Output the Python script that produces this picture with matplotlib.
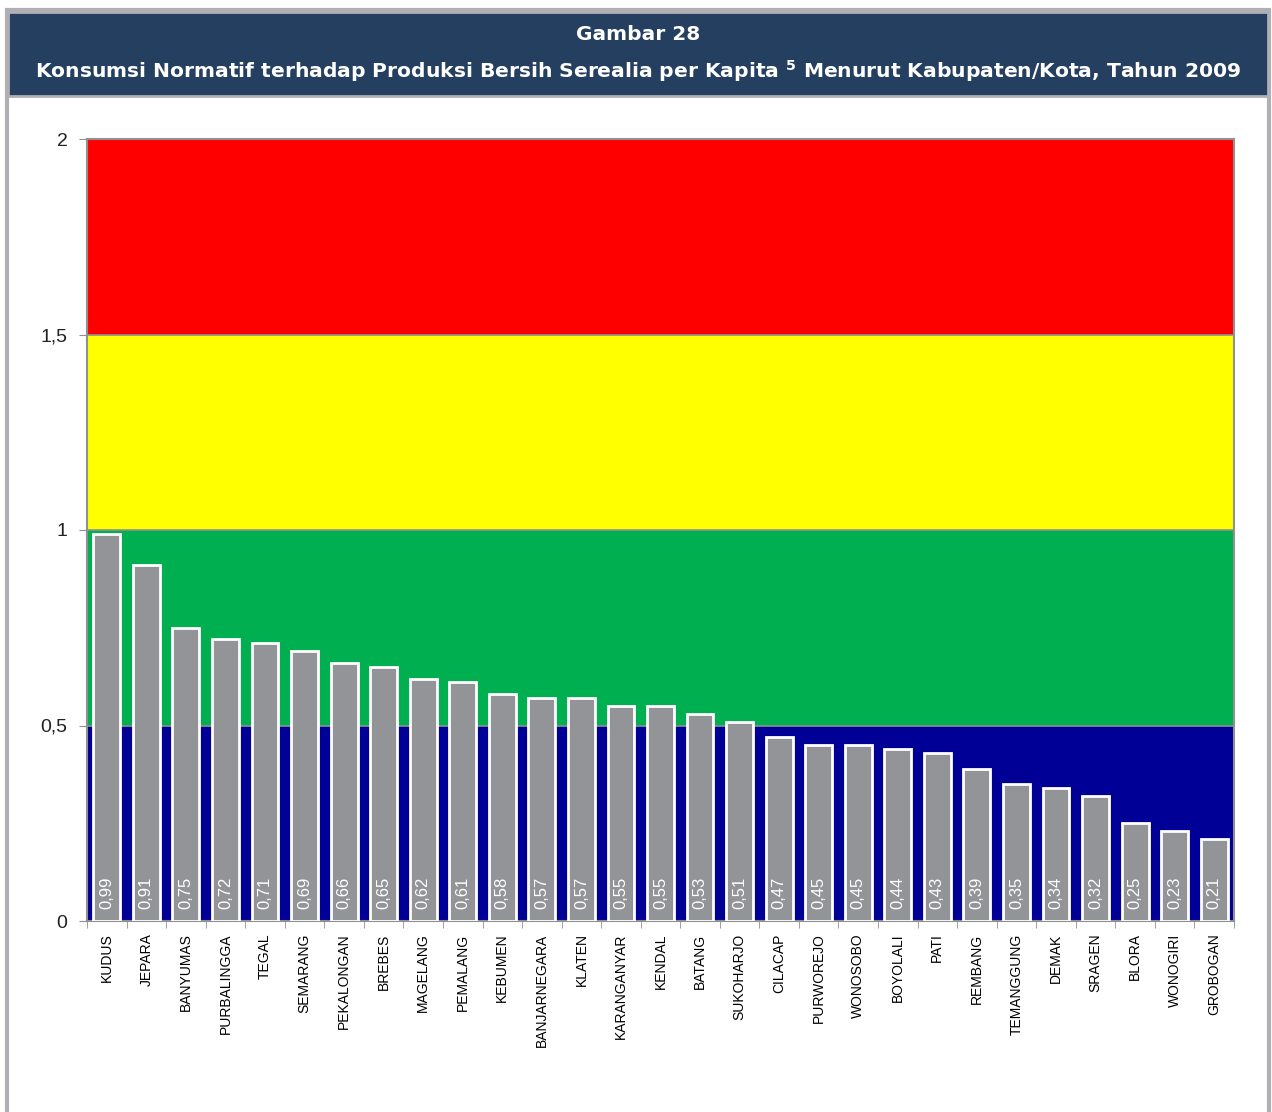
import matplotlib
matplotlib.use("Agg")
import matplotlib.pyplot as plt
from matplotlib.patches import Rectangle

regions = ["KUDUS", "JEPARA", "BANYUMAS", "PURBALINGGA", "TEGAL", "SEMARANG",
           "PEKALONGAN", "BREBES", "MAGELANG", "PEMALANG", "KEBUMEN",
           "BANJARNEGARA", "KLATEN", "KARANGANYAR", "KENDAL", "BATANG",
           "SUKOHARJO", "CILACAP", "PURWOREJO", "WONOSOBO", "BOYOLALI", "PATI",
           "REMBANG", "TEMANGGUNG", "DEMAK", "SRAGEN", "BLORA", "WONOGIRI",
           "GROBOGAN"]
ratio = [0.99, 0.91, 0.75, 0.72, 0.71, 0.69, 0.66, 0.65, 0.62, 0.61, 0.58,
         0.57, 0.57, 0.55, 0.55, 0.53, 0.51, 0.47, 0.45, 0.45, 0.44, 0.43,
         0.39, 0.35, 0.34, 0.32, 0.25, 0.23, 0.21]

band_edges = [0, 0.5, 1.0, 1.5, 2.0]
band_colors = ["#000096", "#00B050", "#FFFF00", "#FF0000"]
y_ticks = [0, 0.5, 1, 1.5, 2]
y_labels = ["0", "0,5", "1", "1,5", "2"]

NARROW = ["Liberation Sans Narrow", "Liberation Sans", "DejaVu Sans"]

W, H = 1272, 1112
fig = plt.figure(figsize=(W / 100, H / 100), dpi=100)

# Outer frame and header
fig.patches.append(Rectangle((7 / W, -0.01), 1262 / W, (H - 10) / H + 0.01,
                             transform=fig.transFigure, facecolor="white",
                             edgecolor="#B0B0B4", linewidth=3, zorder=-2))
fig.patches.append(Rectangle((8 / W, 1 - 96 / H), 1260 / W, 84 / H,
                             transform=fig.transFigure, facecolor="#243F60",
                             edgecolor="#B0B0B4", linewidth=2, zorder=-1))
fig.text(638 / W, 1 - 35 / H, "Gambar 28", color="white", fontsize=14.5,
         fontweight="bold", ha="center", va="center", family="DejaVu Sans")
fig.text(638 / W, 1 - 71 / H,
         "Konsumsi Normatif terhadap Produksi Bersih Serealia per Kapita $^{\\mathbf{5}}$ "
         "Menurut Kabupaten/Kota, Tahun 2009",
         color="white", fontsize=14.6, fontweight="bold", ha="center",
         va="center", family="DejaVu Sans")

ax = fig.add_axes([87 / W, 1 - 921 / H, (1234 - 87) / W, (921 - 139) / H])
ax.set_zorder(5)
n = len(regions)
x = list(range(n))
ax.set_xlim(-0.5, n - 0.5)
ax.set_ylim(0, 2)

for lo, hi, c in zip(band_edges[:-1], band_edges[1:], band_colors):
    ax.axhspan(lo, hi, facecolor=c, edgecolor="none", zorder=0)
for yv in y_ticks[1:]:
    ax.axhline(yv, color="#909090", linewidth=1.2, zorder=1)

ax.bar(x, ratio, width=0.68, color="#939497", edgecolor="white",
       linewidth=2, zorder=3)
for xi, v in zip(x, ratio):
    ax.text(xi, 0.072, f"{v:.2f}".replace(".", ","), rotation=90,
            ha="center", va="center", color="white", fontsize=12,
            family=NARROW, zorder=4)

ax.set_yticks(y_ticks)
ax.set_yticklabels(y_labels, fontsize=14, family=NARROW, color="#222222")
ax.set_xticks(x)
ax.set_xticklabels(regions, rotation=90, fontsize=10, family=NARROW,
                   va="top", ha="center")
ax.tick_params(axis="x", length=0, pad=9)
ax.set_xticks([i - 0.5 for i in range(n + 1)], minor=True)
ax.tick_params(axis="x", which="minor", length=5, color="#909090")
ax.tick_params(axis="y", length=6, color="#909090", pad=8)
for s in ax.spines.values():
    s.set_color("#909090")
    s.set_linewidth(1.5)

fig.savefig("out.png", dpi=100)
